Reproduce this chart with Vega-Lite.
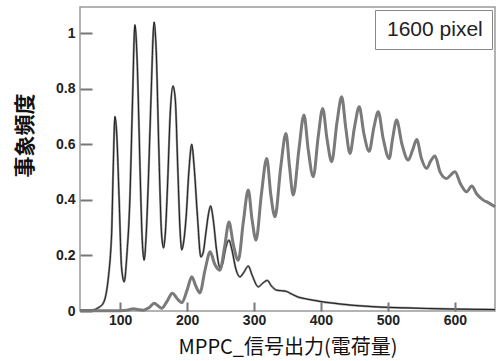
{
  "$schema": "https://vega.github.io/schema/vega-lite/v6.json",
  "width": 415,
  "height": 304,
  "autosize": {"type": "none"},
  "padding": {"left": 80, "top": 7, "right": 2, "bottom": 50},
  "config": {
    "view": {"stroke": "#9a9a9a", "strokeWidth": 1.5}
  },
  "data": {
    "values": [
      {"series": "ref", "x": 40, "y": 0.003}, {"series": "ref", "x": 55, "y": 0.003}, {"series": "ref", "x": 62, "y": 0.005},
      {"series": "ref", "x": 66, "y": 0.01}, {"series": "ref", "x": 70, "y": 0.016}, {"series": "ref", "x": 74, "y": 0.025},
      {"series": "ref", "x": 78, "y": 0.05}, {"series": "ref", "x": 82.5, "y": 0.123}, {"series": "ref", "x": 86, "y": 0.22},
      {"series": "ref", "x": 87.3, "y": 0.28}, {"series": "ref", "x": 89.7, "y": 0.52}, {"series": "ref", "x": 92.2, "y": 0.7},
      {"series": "ref", "x": 94.7, "y": 0.645}, {"series": "ref", "x": 98.5, "y": 0.4}, {"series": "ref", "x": 102, "y": 0.16},
      {"series": "ref", "x": 106, "y": 0.105}, {"series": "ref", "x": 110, "y": 0.2}, {"series": "ref", "x": 114.5, "y": 0.4},
      {"series": "ref", "x": 118.5, "y": 0.76}, {"series": "ref", "x": 122, "y": 1.03}, {"series": "ref", "x": 125.7, "y": 0.88},
      {"series": "ref", "x": 129.6, "y": 0.52}, {"series": "ref", "x": 133, "y": 0.255}, {"series": "ref", "x": 135.8, "y": 0.183},
      {"series": "ref", "x": 139, "y": 0.28}, {"series": "ref", "x": 142, "y": 0.46}, {"series": "ref", "x": 146, "y": 0.76},
      {"series": "ref", "x": 150.8, "y": 1.04}, {"series": "ref", "x": 153.8, "y": 0.94}, {"series": "ref", "x": 157.8, "y": 0.58},
      {"series": "ref", "x": 161.8, "y": 0.28}, {"series": "ref", "x": 164.8, "y": 0.227}, {"series": "ref", "x": 168, "y": 0.3},
      {"series": "ref", "x": 170.9, "y": 0.46}, {"series": "ref", "x": 175, "y": 0.72}, {"series": "ref", "x": 179, "y": 0.81},
      {"series": "ref", "x": 182.4, "y": 0.76}, {"series": "ref", "x": 186, "y": 0.52}, {"series": "ref", "x": 189.7, "y": 0.28},
      {"series": "ref", "x": 192, "y": 0.22}, {"series": "ref", "x": 195.5, "y": 0.26}, {"series": "ref", "x": 198.6, "y": 0.34},
      {"series": "ref", "x": 202.6, "y": 0.5}, {"series": "ref", "x": 207, "y": 0.6}, {"series": "ref", "x": 210.5, "y": 0.52},
      {"series": "ref", "x": 215.5, "y": 0.34}, {"series": "ref", "x": 220.5, "y": 0.195}, {"series": "ref", "x": 224, "y": 0.21},
      {"series": "ref", "x": 228, "y": 0.28}, {"series": "ref", "x": 232, "y": 0.35}, {"series": "ref", "x": 235.2, "y": 0.378},
      {"series": "ref", "x": 239, "y": 0.33}, {"series": "ref", "x": 244, "y": 0.22}, {"series": "ref", "x": 249, "y": 0.155},
      {"series": "ref", "x": 253, "y": 0.17}, {"series": "ref", "x": 258, "y": 0.23}, {"series": "ref", "x": 262.6, "y": 0.255},
      {"series": "ref", "x": 267, "y": 0.22}, {"series": "ref", "x": 273, "y": 0.15}, {"series": "ref", "x": 279, "y": 0.123},
      {"series": "ref", "x": 285, "y": 0.14}, {"series": "ref", "x": 291.4, "y": 0.162}, {"series": "ref", "x": 297, "y": 0.13},
      {"series": "ref", "x": 306.4, "y": 0.087}, {"series": "ref", "x": 313, "y": 0.1}, {"series": "ref", "x": 319.8, "y": 0.11},
      {"series": "ref", "x": 326, "y": 0.09}, {"series": "ref", "x": 333.8, "y": 0.075}, {"series": "ref", "x": 341, "y": 0.073},
      {"series": "ref", "x": 348.8, "y": 0.07}, {"series": "ref", "x": 357, "y": 0.06}, {"series": "ref", "x": 366, "y": 0.05},
      {"series": "ref", "x": 375, "y": 0.045}, {"series": "ref", "x": 390, "y": 0.038}, {"series": "ref", "x": 400, "y": 0.034},
      {"series": "ref", "x": 415, "y": 0.029}, {"series": "ref", "x": 430, "y": 0.025}, {"series": "ref", "x": 450, "y": 0.02},
      {"series": "ref", "x": 475, "y": 0.016}, {"series": "ref", "x": 500, "y": 0.013}, {"series": "ref", "x": 530, "y": 0.011},
      {"series": "ref", "x": 560, "y": 0.009}, {"series": "ref", "x": 600, "y": 0.007}, {"series": "ref", "x": 630, "y": 0.006},
      {"series": "ref", "x": 660, "y": 0.005},

      {"series": "1600 pixel", "x": 40, "y": 0.001}, {"series": "1600 pixel", "x": 90, "y": 0.001}, {"series": "1600 pixel", "x": 110, "y": 0.003},
      {"series": "1600 pixel", "x": 120, "y": 0.008}, {"series": "1600 pixel", "x": 127, "y": 0.005}, {"series": "1600 pixel", "x": 135, "y": 0.003},
      {"series": "1600 pixel", "x": 143, "y": 0.012}, {"series": "1600 pixel", "x": 151, "y": 0.028}, {"series": "1600 pixel", "x": 156, "y": 0.02},
      {"series": "1600 pixel", "x": 162, "y": 0.01}, {"series": "1600 pixel", "x": 170, "y": 0.035}, {"series": "1600 pixel", "x": 178, "y": 0.064},
      {"series": "1600 pixel", "x": 185, "y": 0.045}, {"series": "1600 pixel", "x": 192, "y": 0.03}, {"series": "1600 pixel", "x": 200, "y": 0.075},
      {"series": "1600 pixel", "x": 207, "y": 0.123}, {"series": "1600 pixel", "x": 213, "y": 0.09}, {"series": "1600 pixel", "x": 219, "y": 0.065},
      {"series": "1600 pixel", "x": 227, "y": 0.15}, {"series": "1600 pixel", "x": 234.5, "y": 0.213}, {"series": "1600 pixel", "x": 241, "y": 0.17},
      {"series": "1600 pixel", "x": 249, "y": 0.147}, {"series": "1600 pixel", "x": 256, "y": 0.23}, {"series": "1600 pixel", "x": 262.6, "y": 0.32},
      {"series": "1600 pixel", "x": 269, "y": 0.24}, {"series": "1600 pixel", "x": 276.5, "y": 0.183}, {"series": "1600 pixel", "x": 284, "y": 0.32},
      {"series": "1600 pixel", "x": 291.4, "y": 0.435}, {"series": "1600 pixel", "x": 297, "y": 0.33}, {"series": "1600 pixel", "x": 303, "y": 0.255},
      {"series": "1600 pixel", "x": 311, "y": 0.42}, {"series": "1600 pixel", "x": 319, "y": 0.549}, {"series": "1600 pixel", "x": 325, "y": 0.42},
      {"series": "1600 pixel", "x": 331.3, "y": 0.339}, {"series": "1600 pixel", "x": 340, "y": 0.52}, {"series": "1600 pixel", "x": 347.7, "y": 0.639},
      {"series": "1600 pixel", "x": 353, "y": 0.52}, {"series": "1600 pixel", "x": 358.6, "y": 0.417}, {"series": "1600 pixel", "x": 367, "y": 0.58},
      {"series": "1600 pixel", "x": 374.6, "y": 0.705}, {"series": "1600 pixel", "x": 381, "y": 0.58}, {"series": "1600 pixel", "x": 388.5, "y": 0.483},
      {"series": "1600 pixel", "x": 396, "y": 0.63}, {"series": "1600 pixel", "x": 402.6, "y": 0.729}, {"series": "1600 pixel", "x": 409, "y": 0.62},
      {"series": "1600 pixel", "x": 416, "y": 0.537}, {"series": "1600 pixel", "x": 424, "y": 0.68}, {"series": "1600 pixel", "x": 431, "y": 0.771},
      {"series": "1600 pixel", "x": 437, "y": 0.66}, {"series": "1600 pixel", "x": 443.3, "y": 0.567}, {"series": "1600 pixel", "x": 450, "y": 0.66},
      {"series": "1600 pixel", "x": 457.2, "y": 0.735}, {"series": "1600 pixel", "x": 464, "y": 0.64}, {"series": "1600 pixel", "x": 472, "y": 0.575},
      {"series": "1600 pixel", "x": 479, "y": 0.66}, {"series": "1600 pixel", "x": 485.6, "y": 0.717}, {"series": "1600 pixel", "x": 493, "y": 0.62},
      {"series": "1600 pixel", "x": 502, "y": 0.549}, {"series": "1600 pixel", "x": 507, "y": 0.62}, {"series": "1600 pixel", "x": 513, "y": 0.687},
      {"series": "1600 pixel", "x": 521, "y": 0.6}, {"series": "1600 pixel", "x": 530.4, "y": 0.543}, {"series": "1600 pixel", "x": 537, "y": 0.58},
      {"series": "1600 pixel", "x": 543, "y": 0.617}, {"series": "1600 pixel", "x": 550, "y": 0.55}, {"series": "1600 pixel", "x": 557.9, "y": 0.513},
      {"series": "1600 pixel", "x": 564, "y": 0.54}, {"series": "1600 pixel", "x": 570.3, "y": 0.558}, {"series": "1600 pixel", "x": 578, "y": 0.5},
      {"series": "1600 pixel", "x": 587.8, "y": 0.477}, {"series": "1600 pixel", "x": 594, "y": 0.49}, {"series": "1600 pixel", "x": 600.2, "y": 0.501},
      {"series": "1600 pixel", "x": 608, "y": 0.46}, {"series": "1600 pixel", "x": 617.7, "y": 0.429}, {"series": "1600 pixel", "x": 625.2, "y": 0.45},
      {"series": "1600 pixel", "x": 633, "y": 0.42}, {"series": "1600 pixel", "x": 642.5, "y": 0.399}, {"series": "1600 pixel", "x": 650, "y": 0.39},
      {"series": "1600 pixel", "x": 660, "y": 0.375}
    ]
  },
  "encoding": {
    "x": {
      "field": "x", "type": "quantitative",
      "scale": {"domain": [40, 660], "nice": false, "zero": false},
      "axis": {
        "values": [100, 200, 300, 400, 500, 600], "format": "d",
        "title": "MPPC_信号出力(電荷量)", "titleFont": "Noto Sans CJK JP", "titleFontSize": 20, "titleFontWeight": "normal", "titleColor": "#111", "titlePadding": 10,
        "labelFont": "Liberation Sans", "labelFontSize": 14, "labelFontWeight": "bold", "labelColor": "#222",
        "ticks": true, "tickSize": -9, "tickColor": "#777777", "tickWidth": 2, "labelPadding": 11,
        "domain": false, "grid": false, "zindex": 1
      }
    },
    "y": {
      "field": "y", "type": "quantitative",
      "scale": {"domain": [0, 1.094], "nice": false, "zero": false},
      "axis": {
        "values": [0, 0.2, 0.4, 0.6, 0.8, 1], "format": "~g",
        "title": "事象頻度", "titleFont": "Noto Sans CJK JP", "titleFontSize": 21, "titleFontWeight": "bold", "titleColor": "#111",
        "titleY": 128, "titleX": -45,
        "labelFont": "Liberation Sans", "labelFontSize": 14, "labelFontWeight": "bold", "labelColor": "#222",
        "ticks": true, "tickSize": -12, "tickColor": "#777777", "tickWidth": 2, "labelPadding": 17,
        "domain": false, "grid": false, "zindex": 1
      }
    }
  },
  "layer": [
    {
      "transform": [{"filter": "datum.series === 'ref'"}],
      "mark": {"type": "line", "color": "#8c8c8c", "strokeWidth": 2.2, "interpolate": "monotone"}
    },
    {
      "transform": [{"filter": "datum.series === 'ref'"}],
      "mark": {"type": "line", "color": "#111", "strokeWidth": 0.9, "interpolate": "monotone"}
    },
    {
      "transform": [{"filter": "datum.series === '1600 pixel'"}],
      "mark": {"type": "line", "strokeWidth": 3, "interpolate": "monotone"},
      "encoding": {
        "color": {
          "field": "series", "type": "nominal",
          "scale": {"domain": ["1600 pixel"], "range": ["#7a7a7a"]},
          "legend": {
            "orient": "top-right", "offset": 3, "title": null,
            "padding": 9, "strokeColor": "#888", "fillColor": "white",
            "labelFont": "Liberation Sans", "labelFontSize": 21, "labelColor": "#222",
            "symbolOpacity": 0, "symbolSize": 1, "symbolStrokeWidth": 0, "labelOffset": -18
          }
        }
      }
    }
  ]
}
